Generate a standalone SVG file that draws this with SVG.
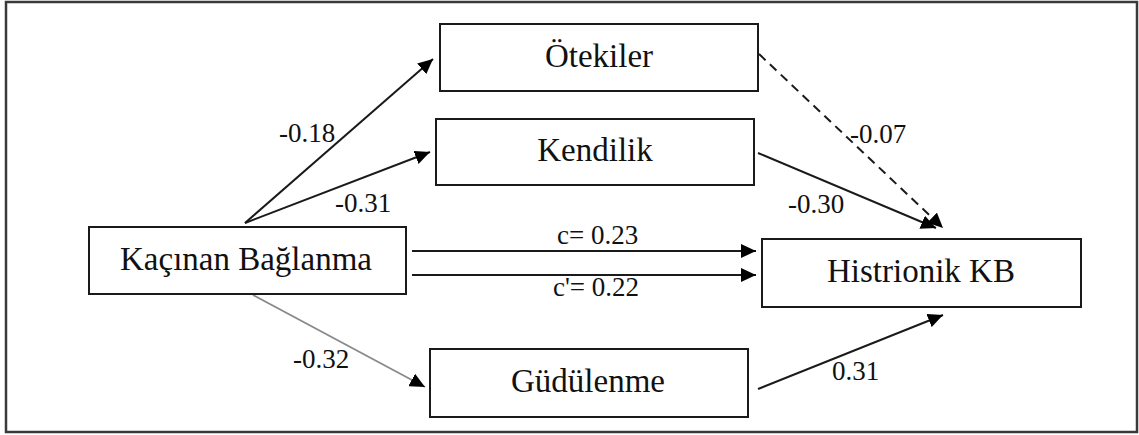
<svg xmlns="http://www.w3.org/2000/svg" width="1139" height="435" viewBox="0 0 1139 435">
<style>
.frame{fill:#fff;stroke:#3a3a3a;stroke-width:2.5}
.box{fill:#fff;stroke:#1a1a1a;stroke-width:2}
.node{font-family:"Liberation Serif","Times New Roman",serif;font-size:33px;fill:#111;text-anchor:middle}
.lbl{font-family:"Liberation Serif","Times New Roman",serif;font-size:27px;fill:#111}
.edge{fill:none;stroke:#1a1a1a;stroke-width:2}
.dash{stroke-dasharray:9 6}
.light{stroke:#8a8a8a;stroke-width:1.8}
</style>
<defs>
<marker id="ah" markerUnits="userSpaceOnUse" markerWidth="16" markerHeight="14" refX="15" refY="7" orient="auto">
<path d="M0,0 L15,7 L0,14 z" fill="#000" stroke="none"/>
</marker>
</defs>
<rect class="frame" x="6" y="2" width="1131" height="430"/>
<g id="connectors">
<line class="edge" x1="245" y1="223" x2="433" y2="59" marker-end="url(#ah)"/>
<line class="edge" x1="245" y1="223" x2="430" y2="152" marker-end="url(#ah)"/>
<line class="edge" x1="412" y1="251" x2="756" y2="251" marker-end="url(#ah)"/>
<line class="edge" x1="412" y1="275" x2="756" y2="275" marker-end="url(#ah)"/>
<line class="edge light" x1="253" y1="295" x2="425" y2="387" marker-end="url(#ah)"/>
<line class="edge dash" x1="759" y1="54" x2="943" y2="228" marker-end="url(#ah)"/>
<line class="edge" x1="758" y1="153" x2="936" y2="228" marker-end="url(#ah)"/>
<line class="edge" x1="758" y1="389" x2="943" y2="315" marker-end="url(#ah)"/>
<text class="lbl" x="279" y="142">-0.18</text>
<text class="lbl" x="335" y="212">-0.31</text>
<text class="lbl" x="850" y="143">-0.07</text>
<text class="lbl" x="788" y="213">-0.30</text>
<text class="lbl" x="557" y="244">c= 0.23</text>
<text class="lbl" x="553" y="296">c'= 0.22</text>
<text class="lbl" x="293" y="368">-0.32</text>
<text class="lbl" x="832" y="380">0.31</text>
</g>
<g id="node-otekiler">
<rect class="box" x="440" y="24" width="318" height="67"/>
<text class="node" x="599" y="67">Ötekiler</text>
</g>
<g id="node-kendilik">
<rect class="box" x="436" y="119" width="318" height="66"/>
<text class="node" x="595" y="161">Kendilik</text>
</g>
<g id="node-kacinan">
<rect class="box" x="89" y="227" width="317" height="67"/>
<text class="node" x="246" y="270">Kaçınan Bağlanma</text>
</g>
<g id="node-histrionik">
<rect class="box" x="762" y="239" width="319" height="68"/>
<text class="node" x="921" y="282">Histrionik KB</text>
</g>
<g id="node-gudulenme">
<rect class="box" x="430" y="349" width="318" height="68"/>
<text class="node" x="588" y="392">Güdülenme</text>
</g>
</svg>
